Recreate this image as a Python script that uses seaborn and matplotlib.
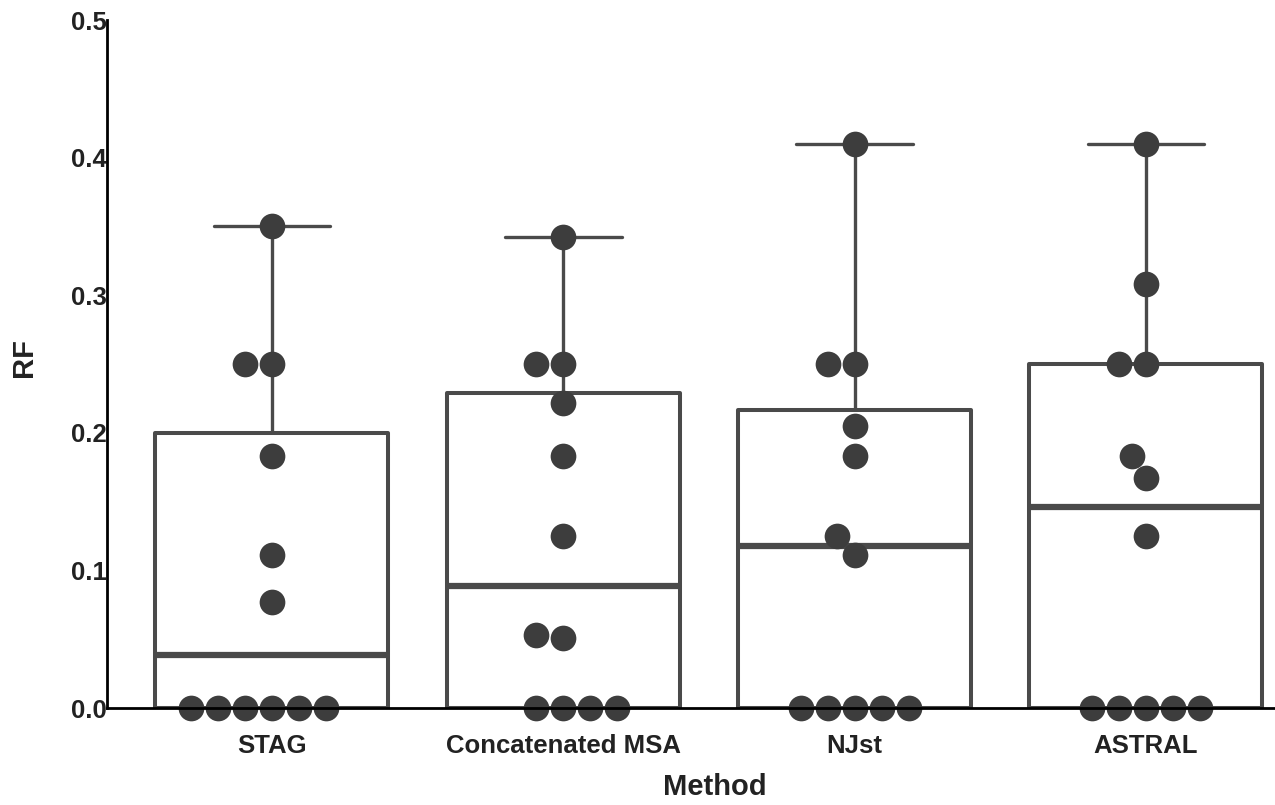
import seaborn as sns
import matplotlib
matplotlib.use("Agg")
import matplotlib.pyplot as plt
import pandas as pd

# RF distances per method
methods = ['STAG', 'Concatenated MSA', 'NJst', 'ASTRAL']
stag = [0, 0, 0, 0, 0, 0, 0.077, 0.111, 0.183, 0.25, 0.25, 0.35]
concat = [0, 0, 0, 0, 0.051, 0.053, 0.125, 0.183, 0.222, 0.25, 0.25, 0.342]
njst = [0, 0, 0, 0, 0, 0.111, 0.125, 0.183, 0.205, 0.25, 0.25, 0.41]
astral = [0, 0, 0, 0, 0, 0.125, 0.167, 0.183, 0.25, 0.25, 0.308, 0.41]
yticks = [0.0, 0.1, 0.2, 0.3, 0.4, 0.5]

rows = []
for name, vals in zip(methods, [stag, concat, njst, astral]):
    for v in vals:
        rows.append({'Method': name, 'RF': v})
df = pd.DataFrame(rows)

sns.set_theme(style="white")
plt.rcParams['font.family'] = ['Liberation Sans', 'DejaVu Sans']
plt.rcParams['font.weight'] = 'bold'

line_col = '#4a4a4a'
dot_col = '#3d3d3d'
text_col = '#222222'

fig = plt.figure(figsize=(12.75, 8.05), dpi=100)
ax = fig.add_axes([107 / 1275, 97 / 805, 1168 / 1275, 688 / 805])

sns.boxplot(data=df, x='Method', y='RF', order=methods, fill=False,
            color=line_col, linecolor=line_col, linewidth=2.9, width=0.8,
            showfliers=False,
            medianprops=dict(linewidth=4.5, color=line_col),
            whiskerprops=dict(linewidth=2.4, color=line_col),
            capprops=dict(linewidth=2.4, color=line_col),
            ax=ax)
sns.swarmplot(data=df, x='Method', y='RF', order=methods, color=dot_col,
              size=18.5, ax=ax, zorder=3)
for coll in ax.collections:
    coll.set_clip_on(False)

ax.set_xlim(-0.566, 3.443)
ax.set_ylim(0, 0.5)
ax.set_yticks(yticks)
ax.set_yticklabels([f'{t:.1f}' for t in yticks])

sns.despine(ax=ax)
for side in ['left', 'bottom']:
    ax.spines[side].set_color('black')
    ax.spines[side].set_linewidth(2.0)
    ax.spines[side].set_zorder(4)

ax.tick_params(axis='x', length=0, pad=19, labelsize=18.5, labelcolor=text_col)
ax.tick_params(axis='y', length=0, pad=0, labelsize=18.5, labelcolor=text_col)
for lab in ax.get_xticklabels() + ax.get_yticklabels():
    lab.set_fontweight('bold')

ax.set_xlabel('Method', fontsize=21, fontweight='bold', color=text_col)
ax.set_ylabel('RF', fontsize=21, fontweight='bold', color=text_col)
ax.xaxis.set_label_coords((715 - 107) / 1168, -0.094)
ax.yaxis.set_label_coords(-0.059, 0.51)

fig.savefig('out.png', dpi=100)
